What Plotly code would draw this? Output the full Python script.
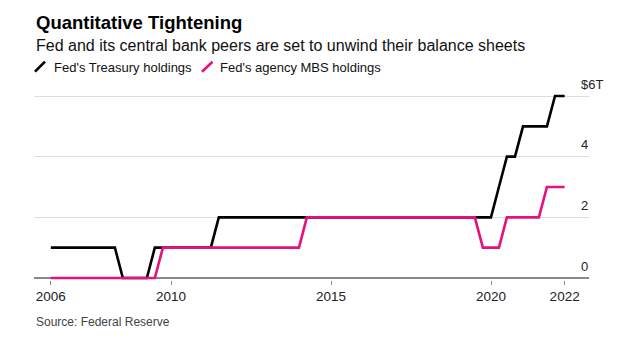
import pandas as pd
import plotly.graph_objects as go

# Quarterly observations (quarter ends) plus the latest reading
dates = [d.strftime("%Y-%m-%d") for d in pd.date_range("2006-03-31", "2021-12-31", freq="QE")] + ["2022-04-20"]

# Fed's Treasury holdings, $ trillions (rounded, as charted)
treasury = [
    1, 1, 1, 1,          # 2006
    1, 1, 1, 1,          # 2007
    1, 0, 0, 0,          # 2008
    0, 1, 1, 1,          # 2009
    1, 1, 1, 1,          # 2010
    1, 2, 2, 2,          # 2011
    2, 2, 2, 2,          # 2012
    2, 2, 2, 2,          # 2013
    2, 2, 2, 2,          # 2014
    2, 2, 2, 2,          # 2015
    2, 2, 2, 2,          # 2016
    2, 2, 2, 2,          # 2017
    2, 2, 2, 2,          # 2018
    2, 2, 2, 2,          # 2019
    3, 4, 4, 5,          # 2020
    5, 5, 5, 6,          # 2021
    6,                   # 2022
]

# Fed's agency MBS holdings, $ trillions (rounded, as charted)
mbs = [
    0, 0, 0, 0,          # 2006
    0, 0, 0, 0,          # 2007
    0, 0, 0, 0,          # 2008
    0, 0, 1, 1,          # 2009
    1, 1, 1, 1,          # 2010
    1, 1, 1, 1,          # 2011
    1, 1, 1, 1,          # 2012
    1, 1, 1, 1,          # 2013
    2, 2, 2, 2,          # 2014
    2, 2, 2, 2,          # 2015
    2, 2, 2, 2,          # 2016
    2, 2, 2, 2,          # 2017
    2, 2, 2, 2,          # 2018
    2, 2, 1, 1,          # 2019
    1, 2, 2, 2,          # 2020
    2, 2, 3, 3,          # 2021
    3,                   # 2022
]

series_names = ["Fed's Treasury holdings", "Fed's agency MBS holdings"]
series_colors = ["#000000", "#E5127D"]

x_tickvals = [dates[0], "2010-01-01", "2015-01-01", "2020-01-01", dates[-1]]
x_ticktext = ["2006", "2010", "2015", "2020", "2022"]
y_tickvals = [0, 2, 4, 6]
y_ticktext = ["0", "2", "4", "$6T"]

FONT = "Liberation Sans, Arial, sans-serif"

fig = go.Figure()
for name, vals, col in zip(series_names, [treasury, mbs], series_colors):
    fig.add_trace(go.Scatter(
        x=dates, y=vals, mode="lines", name=name,
        line=dict(color=col, width=2.6), showlegend=False,
        hoverinfo="skip",
    ))

# plot-area geometry (px)
L, R, T, B = 34, 589, 88, 280
W, H = 640, 345
ph = B - T

def py(px):
    return 1 + (T - px) / ph

def px_x(px):
    return (px - L) / (R - L)

fig.update_layout(
    width=W, height=H,
    margin=dict(l=L, r=W - R, t=T, b=H - B, pad=0),
    paper_bgcolor="white", plot_bgcolor="white",
    font=dict(family=FONT, color="#222"),
    xaxis=dict(
        type="date",
        range=["2005-09-20", "2023-01-23"],
        tickvals=x_tickvals, ticktext=x_ticktext,
        showgrid=False, zeroline=False, showline=False,
        ticks="outside", ticklen=4, tickwidth=1, tickcolor="#888",
        tickfont=dict(size=13.5, color="#222"),
    ),
    yaxis=dict(
        side="right",
        range=[-0.066, 6.264],
        tickvals=y_tickvals, ticktext=y_ticktext,
        showgrid=True, gridcolor="#dddddd", gridwidth=1,
        zeroline=True, zerolinecolor="#888888", zerolinewidth=2,
        showline=False, ticks="",
        ticklabelposition="outside",
        ticklabelstandoff=-9, ticklabelshift=-12,
        tickfont=dict(size=13, color="#222"),
    ),
)

annotations = [
    dict(text="<b>Quantitative Tightening</b>", x=0, y=py(22), xanchor="left", yanchor="middle",
         font=dict(size=18.5, color="#000")),
    dict(text="Fed and its central bank peers are set to unwind their balance sheets",
         x=0, y=py(45), xanchor="left", yanchor="middle", font=dict(size=16, color="#111")),
    dict(text=series_names[0], x=px_x(51.7), y=py(68), xanchor="left", yanchor="middle",
         font=dict(size=13, color="#111")),
    dict(text=series_names[1], x=px_x(218.3), y=py(68), xanchor="left", yanchor="middle",
         font=dict(size=13, color="#111")),
    dict(text="Source: Federal Reserve", x=0, y=py(322), xanchor="left", yanchor="middle",
         font=dict(size=12, color="#444")),
]
for a in annotations:
    a.update(xref="paper", yref="paper", showarrow=False)
fig.update_layout(annotations=annotations)

# legend slashes
for (x0, x1), col in zip([(35, 45), (202, 212.5)], series_colors):
    fig.add_shape(type="line", xref="paper", yref="paper",
                  x0=px_x(x0), x1=px_x(x1), y0=py(71.7), y1=py(61.7),
                  line=dict(color=col, width=2.6))

fig.write_html("out.html")
